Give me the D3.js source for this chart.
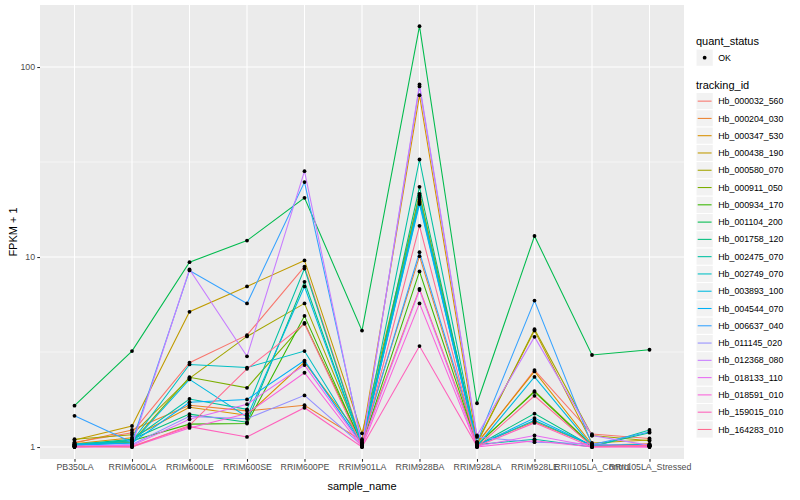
<!DOCTYPE html>
<html>
<head>
<meta charset="utf-8">
<script src="https://cdn.jsdelivr.net/npm/d3@7"></script>
<style>
  body { margin: 0; background: #fff; }
  text { font-family: "Liberation Sans", Arial, sans-serif; }
</style>
</head>
<body>
<svg id="chart"></svg>
<script>
const samples = ["PB350LA", "RRIM600LA", "RRIM600LE", "RRIM600SE", "RRIM600PE", "RRIM901LA",
  "RRIM928BA", "RRIM928LA", "RRIM928LE", "RRII105LA_Control", "RRII105LA_Stressed"];

const trackingIds = ["Hb_000032_560", "Hb_000204_030", "Hb_000347_530", "Hb_000438_190", "Hb_000580_070",
  "Hb_000911_050", "Hb_000934_170", "Hb_001104_200", "Hb_001758_120", "Hb_002475_070",
  "Hb_002749_070", "Hb_003893_100", "Hb_004544_070", "Hb_006637_040", "Hb_011145_020",
  "Hb_012368_080", "Hb_018133_110", "Hb_018591_010", "Hb_159015_010", "Hb_164283_010"];

// ggplot default hue colours for 20 levels
const hues = ["#F8766D", "#EA8331", "#D89000", "#C09B00", "#A3A500", "#7CAE00", "#39B600", "#00BB4E",
  "#00BF7D", "#00C1A3", "#00BFC4", "#00BAE0", "#00B0F6", "#35A2FF", "#9590FF", "#C77CFF",
  "#E76BF3", "#FA62DB", "#FF62BC", "#FF6C91"];

// FPKM + 1, one row per tracking_id, one value per sample
const fpkm = [
  [1.06, 1.19, 2.78, 3.88, 8.9, 1.05, 6.8, 1.04, 2.54, 1.17, 1.11],
  [1.05, 1.23, 1.66, 1.55, 1.66, 1.08, 10.1, 1.03, 1.36, 1.02, 1.04],
  [1.04, 1.12, 1.62, 1.47, 2.8, 1.10, 71, 1.05, 2.50, 1.03, 1.02],
  [1.09, 1.29, 5.15, 7.0, 9.6, 1.18, 21, 1.06, 4.10, 1.05, 1.09],
  [1.10, 1.16, 2.30, 3.82, 5.7, 1.06, 21.5, 1.04, 4.17, 1.15, 1.08],
  [1.03, 1.06, 2.33, 2.05, 4.5, 1.04, 20, 1.02, 1.97, 1.02, 1.03],
  [1.02, 1.08, 1.32, 1.33, 4.9, 1.03, 8.4, 1.03, 1.95, 1.01, 1.02],
  [1.65, 3.2, 9.4, 12.2, 20.5, 4.1, 164, 1.7, 12.9, 3.05, 3.25],
  [1.03, 1.10, 1.49, 1.35, 7.4, 1.02, 23.4, 1.02, 1.50, 1.01, 1.19],
  [1.02, 1.09, 1.79, 1.58, 8.7, 1.03, 32.6, 1.03, 1.10, 1.00, 1.23],
  [1.04, 1.07, 2.72, 2.62, 3.2, 1.04, 20.5, 1.02, 1.38, 1.02, 1.02],
  [1.03, 1.05, 2.27, 1.44, 7.0, 1.02, 19.5, 1.01, 2.34, 1.01, 1.01],
  [1.02, 1.05, 1.72, 1.78, 2.85, 1.03, 19, 1.02, 1.42, 1.02, 1.03],
  [1.46, 1.06, 8.5, 5.7, 24.8, 1.05, 10.6, 1.06, 5.9, 1.03, 1.20],
  [1.01, 1.03, 1.45, 1.41, 1.87, 1.02, 79, 1.13, 1.06, 1.04, 1.01],
  [1.00, 1.02, 8.6, 3.0, 28.3, 1.01, 81, 1.15, 3.8, 1.15, 1.02],
  [1.01, 1.02, 1.40, 1.68, 2.7, 1.02, 6.7, 1.01, 1.15, 1.01, 1.00],
  [1.00, 1.00, 1.26, 1.50, 2.46, 1.00, 5.7, 1.00, 1.08, 1.00, 1.01],
  [1.00, 1.01, 1.28, 1.13, 1.61, 1.00, 3.4, 1.01, 1.34, 1.00, 1.00],
  [1.01, 1.00, 1.30, 2.58, 4.45, 1.01, 14.6, 1.00, 1.86, 1.01, 1.02]
];

const yTicks = [1, 10, 100];
const yMinor = [Math.sqrt(10), Math.sqrt(1000)];

const width = 800, height = 500;
const panel = { left: 40, right: 684, top: 5, bottom: 459 };

const svg = d3.select("#chart").attr("width", width).attr("height", height);

const x = d3.scalePoint().domain(samples).range([panel.left, panel.right]).padding(0.6);
const y = d3.scaleLog().domain([0.865, 212]).range([panel.bottom, panel.top]);

const color = d3.scaleOrdinal().domain(trackingIds).range(hues);

svg.append("rect")
  .attr("x", panel.left).attr("y", panel.top)
  .attr("width", panel.right - panel.left).attr("height", panel.bottom - panel.top)
  .attr("fill", "#EBEBEB");

const grid = svg.append("g");
grid.selectAll(".minor").data(yMinor).enter().append("line")
  .attr("x1", panel.left).attr("x2", panel.right)
  .attr("y1", d => y(d)).attr("y2", d => y(d))
  .attr("stroke", "#fff").attr("stroke-width", 0.53);
grid.selectAll(".major").data(yTicks).enter().append("line")
  .attr("x1", panel.left).attr("x2", panel.right)
  .attr("y1", d => y(d)).attr("y2", d => y(d))
  .attr("stroke", "#fff").attr("stroke-width", 1.07);
grid.selectAll(".vmajor").data(samples).enter().append("line")
  .attr("x1", d => x(d)).attr("x2", d => x(d))
  .attr("y1", panel.top).attr("y2", panel.bottom)
  .attr("stroke", "#fff").attr("stroke-width", 1.07);

const series = trackingIds.map((id, i) => ({ id, values: fpkm[i].map((v, j) => ({ s: samples[j], v })) }));

const line = d3.line().x(d => x(d.s)).y(d => y(d.v));

svg.append("g").selectAll("path").data(series).enter().append("path")
  .attr("d", d => line(d.values))
  .attr("fill", "none")
  .attr("stroke", d => color(d.id))
  .attr("stroke-width", 1.07);

svg.append("g").selectAll("g").data(series).enter().append("g")
  .selectAll("circle").data(d => d.values).enter().append("circle")
  .attr("cx", d => x(d.s)).attr("cy", d => y(d.v))
  .attr("r", 1.9).attr("fill", "#000");

// axes
const yAxis = d3.axisLeft(y).tickValues(yTicks).tickFormat(d3.format("d")).tickSize(2.74).tickPadding(2.2);
const gy = svg.append("g").attr("transform", `translate(${panel.left},0)`).call(yAxis);
const xAxis = d3.axisBottom(x).tickSize(2.74).tickPadding(2.2);
const gx = svg.append("g").attr("transform", `translate(0,${panel.bottom})`).call(xAxis);
[gy, gx].forEach(g => {
  g.select(".domain").remove();
  g.selectAll(".tick line").attr("stroke", "#333").attr("stroke-width", 1.07);
  g.selectAll(".tick text").attr("fill", "#4D4D4D").style("font-size", "8.8px")
    .style("font-family", "'Liberation Sans', Arial, sans-serif");
});

svg.append("text")
  .attr("x", (panel.left + panel.right) / 2).attr("y", 490)
  .attr("text-anchor", "middle").style("font-size", "11px").attr("fill", "#000")
  .text("sample_name");
svg.append("text")
  .attr("transform", `translate(17,${(panel.top + panel.bottom) / 2}) rotate(-90)`)
  .attr("text-anchor", "middle").style("font-size", "11px").attr("fill", "#000")
  .text("FPKM + 1");

// legends
const lx = 696, key = 17.28;
const leg = svg.append("g");
leg.append("text").attr("x", lx).attr("y", 45).style("font-size", "11px").text("quant_status");
leg.append("rect").attr("x", lx).attr("y", 49).attr("width", key).attr("height", key)
  .attr("fill", "#F2F2F2").attr("stroke", "#fff");
leg.append("circle").attr("cx", lx + key / 2).attr("cy", 49 + key / 2).attr("r", 1.9).attr("fill", "#000");
leg.append("text").attr("x", lx + key + 5).attr("y", 49 + key / 2 + 3.1)
  .style("font-size", "8.8px").attr("fill", "#000").text("OK");

leg.append("text").attr("x", lx).attr("y", 89).style("font-size", "11px").text("tracking_id");
const items = leg.selectAll(".item").data(trackingIds).enter().append("g")
  .attr("transform", (d, i) => `translate(${lx},${92.5 + i * key})`);
items.append("rect").attr("width", key).attr("height", key).attr("fill", "#F2F2F2").attr("stroke", "#fff");
items.append("line").attr("x1", 1.7).attr("x2", key - 1.7).attr("y1", key / 2).attr("y2", key / 2)
  .attr("stroke", d => color(d)).attr("stroke-width", 1.07);
items.append("text").attr("x", key + 5).attr("y", key / 2 + 3.1)
  .style("font-size", "8.8px").attr("fill", "#000").text(d => d);
</script>
</body>
</html>
